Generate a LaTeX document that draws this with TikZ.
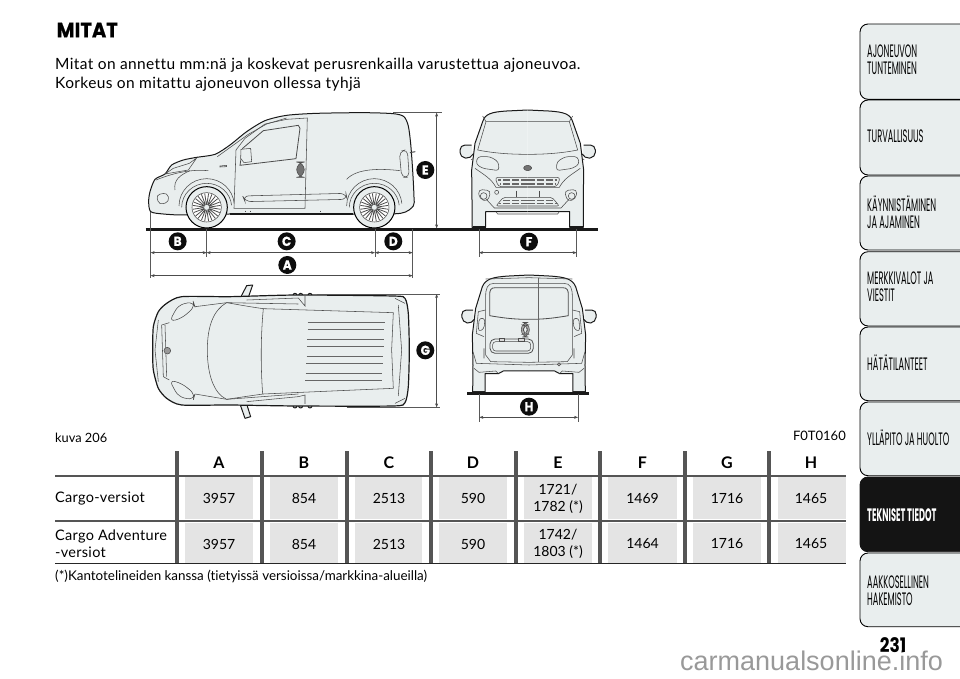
\documentclass[tikz,border=0pt]{standalone}
\usepackage{fontspec}
\setmainfont[Ligatures=NoCommon]{Lato}
\newfontfamily\introfont[LetterSpace=2.5,Ligatures=NoCommon]{Lato}
\newfontfamily\labelfont[LetterSpace=2,Ligatures=NoCommon]{Lato}
\newfontfamily\headfont[FakeStretch=0.93,BoldFeatures={FakeBold=0.6}]{Poppins}
\newfontfamily\numfont[FakeStretch=0.85]{Poppins}
\newfontfamily\tabfont[FakeStretch=0.46]{Poppins}
\newfontfamily\wmfont{Liberation Sans}
\usetikzlibrary{arrows.meta}
\definecolor{carbody}{HTML}{E9EEEE}
\definecolor{cellgray}{HTML}{E4E4E4}
\definecolor{barcolor}{HTML}{555555}
\tikzset{
  carline/.style={draw=black!90,line width=1pt,fill=carbody,line join=round},
  thinline/.style={draw=black!70,line width=.55pt},
  greyrib/.style={draw=black!60,line width=.65pt},
  ground/.style={line width=2.4pt,black!90},
  extline/.style={draw=black!65,line width=.45pt},
  dimline/.style={draw=black!70,line width=.5pt,{Stealth[length=4pt,width=3pt]}-{Stealth[length=4pt,width=3pt]}},
  badge/.style={circle,fill=black!95,text=white,inner sep=0pt,minimum size=18pt,font=\headfont\bfseries\fontsize{13}{13}\selectfont},
  tabbox/.style={draw=black,line width=.9pt,fill=carbody,rounded corners=8pt},
  tabtext/.style={anchor=west,align=left,inner sep=0pt,font=\tabfont\fontsize{18}{17}\selectfont},
  cell/.style={align=center,font=\fontsize{14}{17}\selectfont},
  rowlabel/.style={anchor=west,align=left,inner sep=0pt,font=\labelfont\fontsize{14.5}{17}\selectfont},
  rimwheel/.pic={
    \draw[draw=black,line width=1pt,fill=carbody] (0,0) circle (62);
    \draw[thinline,fill=white] (0,0) circle (44);
    \foreach \a in {0,30,...,330} {
      \draw[thinline,line width=.8pt] (\a-5:9) -- (\a-8:42) (\a+5:9) -- (\a+8:42);
    }
    \draw[thinline,fill=carbody] (0,0) circle (9);
  }
}
\begin{document}
\begin{tikzpicture}[x=1pt,y=-1pt]
\useasboundingbox (0,0) rectangle (960,678);

% title
\node[anchor=west,inner sep=0pt,font=\headfont\bfseries\fontsize{21}{21}\selectfont] (title) at (56.5,30) {MITAT};
\node[anchor=west,align=left,inner sep=0pt,font=\introfont\fontsize{15.5}{19}\selectfont] (intro) at (55,74.5) {Mitat on annettu mm:nä ja koskevat perusrenkailla varustettua ajoneuvoa.\\Korkeus on mitattu ajoneuvon ollessa tyhjä};

% side view
\begin{scope}[shift={(130,100)},x=.3333pt,y=-.3333pt]
\draw[carline] plot[smooth cycle,tension=.45] coordinates {(62,335) (56,305) (60,275) (75,238) (105,222) (125,195) (160,180) (200,172) (255,163) (300,135) (350,95) (405,62) (470,46) (560,40) (700,38) (790,41) (822,50) (835,78) (842,130) (848,210) (852,290) (850,318) (812,340) (680,342) (300,342) (160,345) (100,342)};
\draw[thinline] (312,325) -- (318,150) -- (345,115) -- (405,72) -- (470,58) -- (532,54) -- (525,325) -- cycle;
\draw[thinline,line width=.8pt] (330,196) -- (338,145) -- (400,92) -- (505,76) -- (510,85) -- (498,176) -- cycle;
\draw[thinline,fill=carbody] (333,148) -- (362,145) -- (365,185) -- (342,188) -- (332,175) -- cycle;
\draw[thinline,fill=black!55,rounded corners=8pt] (500,186) rectangle (523,232);
\draw[thinline,rounded corners=6pt] (338,288) -- (648,280) -- (652,298) -- (345,305) -- cycle;
\draw[thinline] (105,222) -- (130,205) -- (178,190) -- (200,174) (105,222) -- (175,210) -- (200,174);
\draw[thinline] (78,240) .. controls (140,215) and (190,208) .. (235,212);
\draw[thinline] (135,270) .. controls (130,240) and (150,225) .. (180,212);
\draw[thinline,rounded corners=4pt] (78,285) -- (112,278) -- (118,305) -- (88,315) -- cycle;
\draw[thinline] (270,198) -- (290,196) -- (290,200) -- (270,201) -- cycle;
\draw[thinline] (650,238) .. controls (680,205) and (750,205) .. (810,212);
\draw[thinline,fill=carbody,rounded corners=5pt] (808,155) -- (832,148) -- (838,232) -- (815,232) -- cycle;
\draw[thinline,line width=1pt] (840,158) -- (856,155);
\draw[thinline] (262,170) -- (355,103) -- (410,72) -- (470,54);
% wheel arches
\draw[thinline] (147,318) arc (180:355:83 and 82);
\draw[thinline] (155,322) arc (180:355:75 and 72);
\draw[thinline] (650,318) arc (180:355:83 and 82);
\draw[thinline] (658,322) arc (180:355:75 and 72);
\draw[line width=1.3pt,black!90] (300,342) -- (668,342);
\pic at (230,322) {rimwheel};
\pic at (733,322) {rimwheel};
\draw[thinline] (345,332) -- (345,336) (360,332) -- (360,336) (572,332) -- (572,336);
\draw[ground] (47,388) -- (1404,388);
\node[badge] (badgeB) at (143,424) {B};
\node[badge] (badgeC) at (470,424) {C};
\node[badge] (badgeD) at (790,424) {D};
\node[badge] (badgeA) at (472,495) {A};
\node[badge] (badgeE) at (886,210) {E};
\coordinate (frontTop) at (62,335);
\coordinate (frontEnd) at (62,533);
\coordinate (axleA) at (230,388);
\coordinate (axleAend) at (230,470);
\coordinate (axleB) at (735,388);
\coordinate (axleBend) at (735,470);
\coordinate (rearTop) at (848,388);
\coordinate (rearEnd) at (848,533);
\coordinate (roof) at (790,38);
\coordinate (roofEnd) at (935,38);
\coordinate (floorE) at (920,385);
\coordinate (roofE) at (920,38);
\draw[extline] (frontTop) -- (frontEnd) (axleA) -- (axleAend) (axleB) -- (axleBend) (rearTop) -- (rearEnd) (roof) -- (roofEnd);
\draw[dimline] (62,458) -- (230,458);
\draw[dimline] (230,458) -- (735,458);
\draw[dimline] (735,458) -- (848,458);
\draw[dimline] (62,527) -- (848,527);
\draw[dimline] (roofE) -- (floorE);
\end{scope}

% front view
\begin{scope}[shift={(440,100)},x=.3333pt,y=-.3333pt]
\foreach \s in {1,-1} {
\begin{scope}[shift={(263,0)},xscale=\s]
\draw[carline] (0,30) -- (63,33) .. controls (110,36) and (128,42) .. (135,65) -- (158,130) -- (168,210) -- (167,300) -- (167,382) -- (126,382) -- (126,335) -- (0,335);
\draw[thinline] (0,65) -- (125,65) -- (150,150) .. controls (100,160) and (50,163) .. (0,163);
\draw[thinline] (125,65) -- (135,48);
\draw[carline,rounded corners=5pt] (168,135) -- (203,135) -- (203,172) -- (170,176) -- (165,165);
\draw[thinline] (165,176) -- (170,180);
\draw[thinline,rounded corners=3pt] (150,170) -- (113,170) -- (88,185) -- (86,212) -- (135,205) -- (155,192) -- cycle;
\draw[thinline] (158,205) .. controls (130,225) and (110,235) .. (95,262) -- (0,262);
\draw[thinline,rounded corners=3pt] (0,232) -- (98,232) -- (88,260) -- (0,260);
\draw[greyrib,line width=1.6pt,dash pattern=on 7pt off 2pt] (0,240) -- (88,240) (0,252) -- (84,252);
\draw[thinline,rounded corners=4pt] (148,268) -- (110,272) -- (120,305) -- (145,296) -- cycle;
\draw[thinline] (132,288) circle (10);
\draw[thinline,rounded corners=2pt] (0,292) -- (73,292) -- (95,318) -- (0,318);
\draw[greyrib,line width=1.6pt,dash pattern=on 7pt off 2pt] (0,301) -- (80,301) (0,311) -- (87,311);
\draw[thinline] (0,324) -- (100,324) -- (124,298);
\draw[thinline] (0,342) -- (90,342) -- (95,335);
\draw[line width=2pt,black!90] (126,381) -- (165,381);
\draw[thinline] (35,272) -- (35,292);
\end{scope}
}
\draw[thinline] (170,277) circle (6);
\draw[thinline,fill=black!55] (263,204) ellipse (12 and 8);
\draw[ground] (0,388) -- (470,388);
\node[badge] (badgeF) at (267,425) {F};
\coordinate (wheelL) at (117,388);
\coordinate (wheelLend) at (117,470);
\coordinate (wheelR) at (410,388);
\coordinate (wheelRend) at (410,470);
\draw[extline] (wheelL) -- (wheelLend) (wheelR) -- (wheelRend);
\draw[dimline] (117,458) -- (410,458);
\end{scope}

% top view
\begin{scope}[shift={(130,270)},x=.3333pt,y=-.3333pt]
\draw[carline] (332,82) -- (350,47) -- (368,45) -- (355,82) (330,402) -- (345,445) -- (362,440) -- (350,402);
\draw[carline] (495,76) circle (6) (512,76) circle (6) (540,76) circle (6) (495,408) circle (6) (512,408) circle (6) (540,408) circle (6);
\draw[carline,line width=1.2pt] plot[smooth cycle,tension=.4] coordinates {(68,240) (70,170) (85,125) (110,100) (155,80) (300,80) (500,75) (790,78) (825,85) (835,130) (838,240) (835,350) (825,398) (790,408) (500,408) (300,405) (155,405) (110,385) (85,355) (70,300)};
\draw[thinline] (290,98) .. controls (250,120) and (232,170) .. (232,240) .. controls (232,310) and (250,370) .. (290,388);
\draw[thinline] (290,98) .. controls (330,105) and (370,112) .. (400,116) -- (790,128) -- (785,240) -- (790,355) -- (400,372) .. controls (370,376) and (330,382) .. (290,388);
\draw[thinline] (400,116) .. controls (392,200) and (392,290) .. (398,372);
\draw[thinline] (350,90) -- (505,84) -- (525,108) -- (525,78) (350,395) -- (505,380) -- (525,375) -- (525,402);
\draw[thinline] (290,98) -- (505,102) (290,388) -- (505,372);
\draw[thinline,rounded corners=6pt] (118,155) -- (145,105) -- (190,95) -- (195,110) -- (155,145) -- cycle;
\draw[thinline,rounded corners=6pt] (118,330) -- (145,380) -- (190,390) -- (195,372) -- (155,340) -- cycle;
\draw[thinline] (195,110) -- (290,98) (195,372) -- (290,388);
\draw[thinline] (118,158) -- (95,165) -- (100,320) -- (118,330);
\draw[thinline] (85,150) -- (75,240) -- (85,335);
\draw[thinline] (105,165) -- (110,320);
\draw[thinline] (805,105) -- (815,240) -- (805,378) (795,85) -- (825,100) (795,400) -- (825,385);
\draw[thinline,fill=black!40] (112,242) circle (10);
\foreach \ya/\xa/\xb in {157/533/765,177/533/763,208/532/762,228/531/761,259/530/760,279/529/759,310/527/757,331/526/756} {
  \draw[greyrib] (\xa,\ya) -- (\xb,\ya);
}
\node[badge] (badgeG) at (886,241) {G};
\coordinate (sideT) at (560,72);
\coordinate (sideTend) at (930,72);
\coordinate (sideB) at (650,412);
\coordinate (sideBend) at (930,412);
\coordinate (gTop) at (920,72);
\coordinate (gBot) at (920,412);
\draw[extline] (sideT) -- (sideTend) (sideB) -- (sideBend);
\draw[dimline] (gTop) -- (gBot);
\end{scope}

% rear view
\begin{scope}[shift={(440,265)},x=.3333pt,y=-.3333pt]
\foreach \s in {1,-1} {
\begin{scope}[shift={(267,0)},xscale=\s]
\draw[carline] (0,30) -- (60,33) .. controls (110,36) and (130,42) .. (140,65) -- (160,130) -- (170,210) -- (168,300) -- (169,382) -- (132,382) -- (132,326) -- (92,326) -- (77,318) -- (0,318);
\draw[thinline,line width=.8pt] (0,68) -- (100,68) .. controls (115,68) and (118,75) .. (118,90) -- (118,152) .. controls (60,162) and (30,163) .. (0,163);
\draw[thinline] (0,55) -- (105,55) .. controls (125,55) and (130,70) .. (130,95) -- (130,270) -- (115,290) -- (0,292);
\draw[thinline] (130,135) -- (152,140) -- (158,205) -- (135,215);
\draw[thinline,rounded corners=3pt] (132,160) -- (150,160) -- (152,200) -- (135,192) -- cycle;
\draw[carline,rounded corners=5pt] (168,135) -- (203,135) -- (200,172) -- (170,176) -- (165,165);
\draw[thinline] (0,300) -- (158,295) -- (168,260);
\draw[thinline] (92,326) -- (100,318) -- (150,322) -- (165,310);
\draw[thinline] (135,250) -- (135,280) (0,38) -- (130,42);
\draw[line width=1.2pt,black!85] (132,381) -- (169,381);
\end{scope}
}
\draw[greyrib,line width=1pt] (297,38) -- (297,290);
\draw[thinline,rounded corners=7pt,fill=black!35] (244,172) rectangle (268,216);
\draw[thinline,fill=carbody,rounded corners=5pt] (250,180) rectangle (262,208);
\draw[thinline,rounded corners=5pt,line width=.8pt] (150,222) -- (280,222) -- (280,265) -- (150,265) -- cycle;
\draw[thinline,rounded corners=3pt] (158,230) rectangle (272,258);
\draw[thinline,fill=black!15] (178,220) rectangle (194,228) (236,220) rectangle (252,228);
\draw[thinline,fill=black!30] (357,298) circle (5);
\draw[ground] (82,386) -- (446,386);
\node[badge] (badgeH) at (267,425) {H};
\coordinate (trackL) at (118,388);
\coordinate (trackLend) at (118,470);
\coordinate (trackR) at (414,388);
\coordinate (trackRend) at (414,470);
\draw[extline] (trackL) -- (trackLend) (trackR) -- (trackRend);
\draw[dimline] (118,457) -- (414,457);
\end{scope}

% captions
\node[anchor=west,inner sep=0pt,font=\fontsize{12.8}{15}\selectfont] (caption) at (55,438) {kuva 206};
\node[anchor=east,inner sep=0pt,font=\fontsize{13}{15}\selectfont] (code) at (846,436) {F0T0160};

% table
\foreach \xa/\xb in {185/253,270/338,355/422,439/507,524/592,608/677,693/761,778/846} {
  \fill[cellgray] (\xa,477.3) rectangle (\xb,519);
  \fill[cellgray] (\xa,522.7) rectangle (\xb,563);
}
\draw[line width=2pt,barcolor] (55,475.7) -- (846,475.7);
\draw[line width=1.5pt,barcolor] (55,521) -- (846,521);
\draw[line width=1pt,black!85] (55,563.5) -- (846,563.5);
\foreach \xb in {176.7,261.7,346.7,431,515.7,600,685,769.3} {
  \draw[line width=4pt,barcolor] (\xb,451) -- (\xb,563);
}
\foreach \name/\xc in {A/219,B/304,C/389,D/473,E/558,F/642.5,G/727,H/811} {
  \node[cell,font=\bfseries\fontsize{16}{16}\selectfont] (head\name) at (\xc,462.3) {\name};
}
\foreach \name/\xc/\vala/\valb in {A/219/3957/3957,B/304/854/854,C/389/2513/2513,D/473/590/590,E/558/{1721/\\1782 (*)}/{1742/\\1803 (*)},F/642.5/1469/1464,G/727/1716/1716,H/811/1465/1465} {
  \node[cell] (cargo\name) at (\xc,498.5) {\vala};
  \node[cell] (adv\name) at (\xc,544) {\valb};
}
\node[rowlabel] (rowcargo) at (55,498.5) {Cargo-versiot};
\node[rowlabel] (rowadv) at (55,544) {Cargo Adventure\\-versiot};
\node[anchor=west,inner sep=0pt,font=\fontsize{13.4}{15}\selectfont] (footnote) at (55,576) {(*)Kantotelineiden kanssa (tietyissä versioissa/markkina-alueilla)};

% side tabs
\foreach \ya/\yb/\ym/\lab in {24/99.3/59.5/{AJONEUVON\\TUNTEMINEN},100/175/136/TURVALLISUUS,176/250/212/{KÄYNNISTÄMINEN\\JA AJAMINEN},251.7/326/287/{MERKKIVALOT JA\\VIESTIT},327/400.7/363/HÄTÄTILANTEET,402/475.7/438/YLLÄPITO JA HUOLTO,553/626.7/591/{AAKKOSELLINEN\\HAKEMISTO}} {
  \draw[tabbox] (968,\ya) -- (860,\ya) -- (860,\yb) -- (968,\yb);
  \node[tabtext] at (867,\ym) {\lab};
}
\draw[tabbox,fill=black!92,draw=black!92] (968,477) -- (860,477) -- (860,551.7) -- (968,551.7);
\node[tabtext,text=white,font=\tabfont\bfseries\fontsize{18}{17}\selectfont] (tabactive) at (867,515) {TEKNISET TIEDOT};

% page number and site mark
\node[anchor=base west,inner sep=0pt,text=black!40,font=\wmfont\fontsize{27}{27}\selectfont] (site) at (680,670) {carmanualsonline.info};
\node[inner sep=0pt,font=\numfont\bfseries\fontsize{20}{20}\selectfont] (pagenum) at (893,645) {231};
\end{tikzpicture}
\end{document}
